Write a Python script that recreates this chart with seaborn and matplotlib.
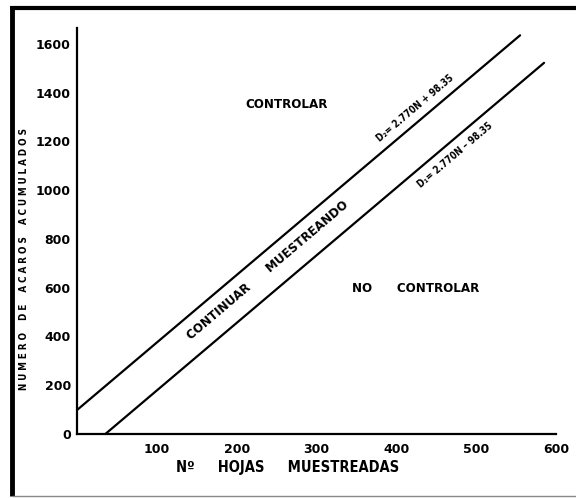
import matplotlib
matplotlib.use("Agg")
import matplotlib.pyplot as plt
from matplotlib.lines import Line2D
import seaborn as sns
import pandas as pd

# Data
d2_x = [0, 555]        # D2 = 2.770N + 98.35 (upper line)
d2_y = [98.35, 1635]
d1_x = [35.5, 585]     # D1 = 2.770N - 98.35 (lower line)
d1_y = [0, 1522]
x_ticks = [100, 200, 300, 400, 500, 600]
y_ticks = [0, 200, 400, 600, 800, 1000, 1200, 1400, 1600]

sns.set_theme(style="white")
plt.rcParams["font.family"] = ["DejaVu Sans"]
plt.rcParams["text.color"] = "black"

cond = dict(family="DejaVu Sans", fontstretch="condensed", fontweight="bold",
            color="black")

df = pd.concat([
    pd.DataFrame({"N": d2_x, "D": d2_y, "line": "D2"}),
    pd.DataFrame({"N": d1_x, "D": d1_y, "line": "D1"}),
])

fig = plt.figure(figsize=(5.76, 4.98), dpi=100)
ax = fig.add_axes([0.1337, 0.1285, 0.8316, 0.8153])
sns.lineplot(data=df, x="N", y="D", units="line", estimator=None,
             color="black", linewidth=1.6, ax=ax, legend=False)

ax.set_xlim(0, 600)
ax.set_ylim(0, 1665)
ax.set_xticks(x_ticks)
ax.set_yticks(y_ticks)
ax.set_xticklabels([str(v) for v in x_ticks], fontsize=9, fontweight="bold")
ax.set_yticklabels([str(v) for v in y_ticks], fontsize=9, fontweight="bold")
ax.tick_params(axis="both", direction="inout", length=7, width=1.4,
               color="black", labelcolor="black")
ax.tick_params(axis="x", pad=3)
ax.tick_params(axis="y", pad=1)
for s in ["top", "right"]:
    ax.spines[s].set_visible(False)
for s in ["left", "bottom"]:
    ax.spines[s].set_linewidth(1.6)
    ax.spines[s].set_color("black")
ax.set_xlabel("")
ax.set_ylabel("")
ax.set_facecolor("white")

# region labels
ax.text(263, 1352, "CONTROLAR", fontsize=9.5, ha="center", va="center", **cond)
ax.text(424, 598, "NO      CONTROLAR", fontsize=9.5, ha="center",
        va="center", **cond)
ax.text(239, 672, "CONTINUAR      MUESTREANDO", fontsize=9.5, ha="center",
        va="center", rotation=40.3, rotation_mode="anchor", **cond)
ax.text(424, 1336, "D\u2082= 2.770N + 98.35", fontsize=7, ha="center",
        va="center", rotation=40.3, rotation_mode="anchor", **cond)
ax.text(474, 1143, "D\u2081= 2.770N \u2013 98.35", fontsize=7, ha="center",
        va="center", rotation=40.3, rotation_mode="anchor", **cond)

# axis titles
fig.text(176 / 576, 1 - 467 / 498, "N\u00ba     HOJAS     MUESTREADAS",
         fontsize=10.5, ha="left", va="center", **cond)
fig.text(24 / 576, 1 - 259 / 498,
         "N U M E R O    D E    A C A R O S    A C U M U L A D O S",
         fontsize=7, ha="center", va="center", rotation=90, **cond)

# scanned frame
fig.add_artist(Line2D([12 / 576, 12 / 576], [1 - 6 / 498, 1 - 496 / 498],
                      transform=fig.transFigure, color="black", linewidth=3.5,
                      solid_capstyle="butt"))
fig.add_artist(Line2D([10 / 576, 1.0], [1 - 8 / 498, 1 - 8 / 498],
                      transform=fig.transFigure, color="black", linewidth=3.0,
                      solid_capstyle="butt"))
fig.add_artist(Line2D([12 / 576, 1.0], [1 - 496 / 498, 1 - 496 / 498],
                      transform=fig.transFigure, color="#888888", linewidth=1.0,
                      solid_capstyle="butt"))

fig.savefig("out.png", dpi=100, facecolor="white")
